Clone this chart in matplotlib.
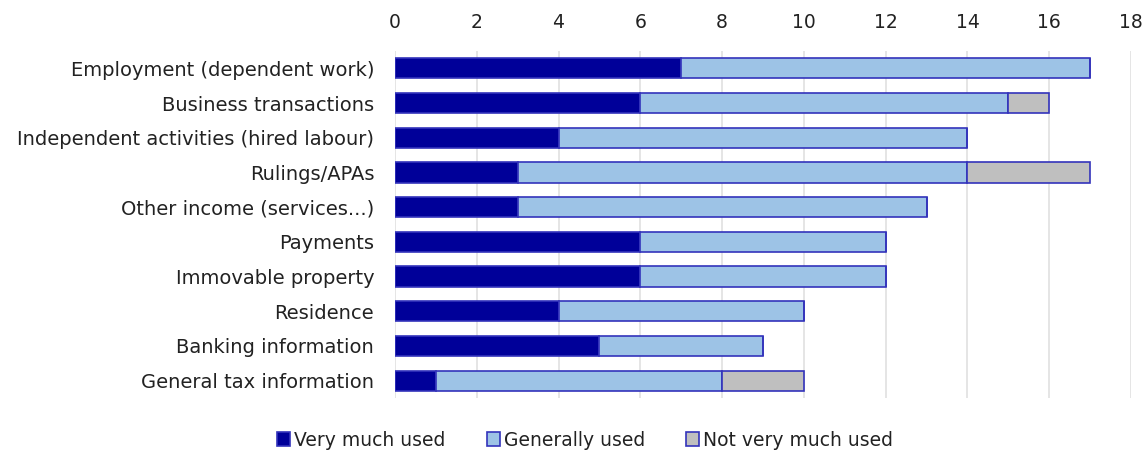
import matplotlib
matplotlib.use("Agg")
import matplotlib.pyplot as plt
import numpy as np

categories = [
    "Employment (dependent work)",
    "Business transactions",
    "Independent activities (hired labour)",
    "Rulings/APAs",
    "Other income (services...)",
    "Payments",
    "Immovable property",
    "Residence",
    "Banking information",
    "General tax information",
]
very_much = [7, 6, 4, 3, 3, 6, 6, 4, 5, 1]
generally = [10, 9, 10, 11, 10, 6, 6, 6, 4, 7]
not_very = [0, 1, 0, 3, 0, 0, 0, 0, 0, 2]
series_names = ["Very much used", "Generally used", "Not very much used"]
colors = ["#000099", "#9DC3E6", "#BFBFBF"]
edge = "#3333BB"

plt.rcParams['font.family'] = ['DejaVu Sans']
fig = plt.figure(figsize=(11.44, 4.5), dpi=100)
ax = fig.add_axes([395/1144, 1 - 398/450, (1131-395)/1144, (398-51)/450])

y = np.arange(len(categories))
left = np.zeros(len(categories))
for vals, name, col in zip([very_much, generally, not_very], series_names, colors):
    vals = np.array(vals, dtype=float)
    ax.barh(y, vals, left=left, height=0.58, color=col, edgecolor=edge,
            linewidth=1.2, label=name, zorder=3)
    left += vals

ax.set_ylim(len(categories) - 0.5, -0.5)
ax.set_yticks(y)
ax.set_yticklabels(categories, fontsize=14, color="#222222")
ax.set_xlim(0, 18)
ax.set_xticks(range(0, 19, 2))
ax.xaxis.tick_top()
ax.tick_params(axis='x', length=0, labelsize=13.5, colors="#222222", pad=14)
ax.tick_params(axis='y', length=0, pad=15)
for s in ax.spines.values():
    s.set_visible(False)
ax.grid(axis='x', color="#E0E0E0", linewidth=1.2, zorder=0)

handles, labels = ax.get_legend_handles_labels()
fig.legend(handles, labels, loc='center', bbox_to_anchor=(585/1144, 1 - 440/450),
           ncol=3, frameon=False, fontsize=13.5, handlelength=0.7, handleheight=0.7,
           handletextpad=0.2, columnspacing=2.2, labelcolor="#222222")

fig.savefig("out.png", dpi=100)
